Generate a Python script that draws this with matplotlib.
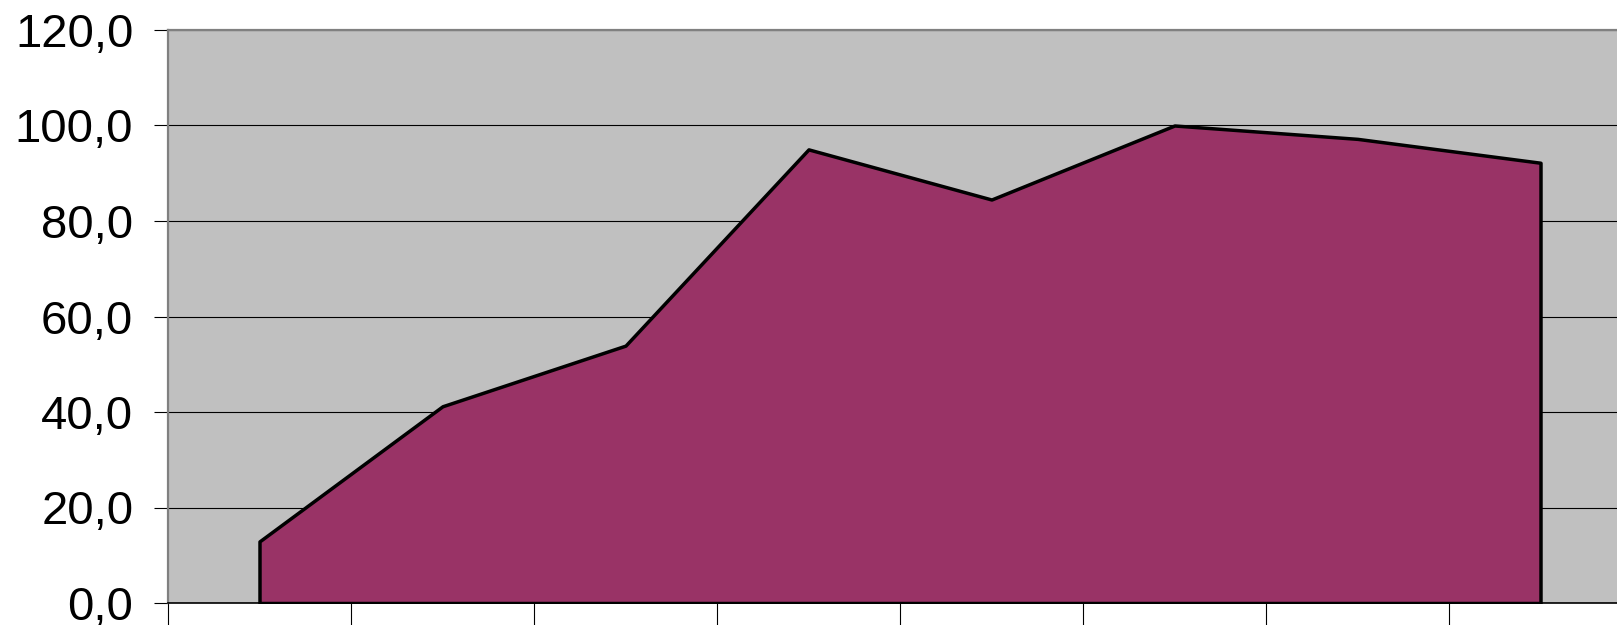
import numpy as np
import matplotlib
matplotlib.use('Agg')
import matplotlib.pyplot as plt
from matplotlib.ticker import FuncFormatter, FixedLocator

# ── data ────────────────────────────────────────────────────────────────
categories = ['1', '2', '3', '4', '5', '6', '7', '8']
values = [12.9, 41.2, 53.9, 95.0, 84.5, 100.0, 97.2, 92.2]
y_ticks = [0, 20, 40, 60, 80, 100, 120]

plt.rcParams['font.family'] = ['Liberation Sans', 'DejaVu Sans']

fig = plt.figure(figsize=(16.17, 6.25), dpi=100)
# plot area runs past the right edge of the picture, as in the reference
ax = fig.add_axes([168 / 1617, 22 / 625, 1464 / 1617, 573 / 625])
ax.set_facecolor('#C0C0C0')

x = np.arange(len(categories))
ax.fill_between(x, values, 0, facecolor='#993366', edgecolor='black',
                linewidth=2.5, zorder=3)

ax.set_xlim(-0.5, len(categories) - 0.5)
ax.set_ylim(0, 120)

ax.yaxis.set_major_locator(FixedLocator(y_ticks))
ax.yaxis.set_major_formatter(FuncFormatter(lambda v, p: f'{v:.1f}'.replace('.', ',')))
ax.grid(axis='y', color='black', linewidth=0.8, zorder=1)
ax.set_axisbelow(True)

# category boundaries as ticks, no labels
ax.xaxis.set_major_locator(FixedLocator(np.arange(-0.5, len(categories), 1.0)))
ax.set_xticklabels([])
ax.tick_params(axis='x', length=16, width=0.8, color='black', direction='out')
ax.tick_params(axis='y', length=10, width=0.8, color='black', direction='out',
               labelsize=34, pad=15)

for s in ['top', 'left']:
    ax.spines[s].set_color('#808080')
    ax.spines[s].set_linewidth(1.6)
ax.spines['bottom'].set_color('black')
ax.spines['bottom'].set_linewidth(1.2)
ax.spines['right'].set_visible(False)

fig.savefig('out.png', dpi=100)
